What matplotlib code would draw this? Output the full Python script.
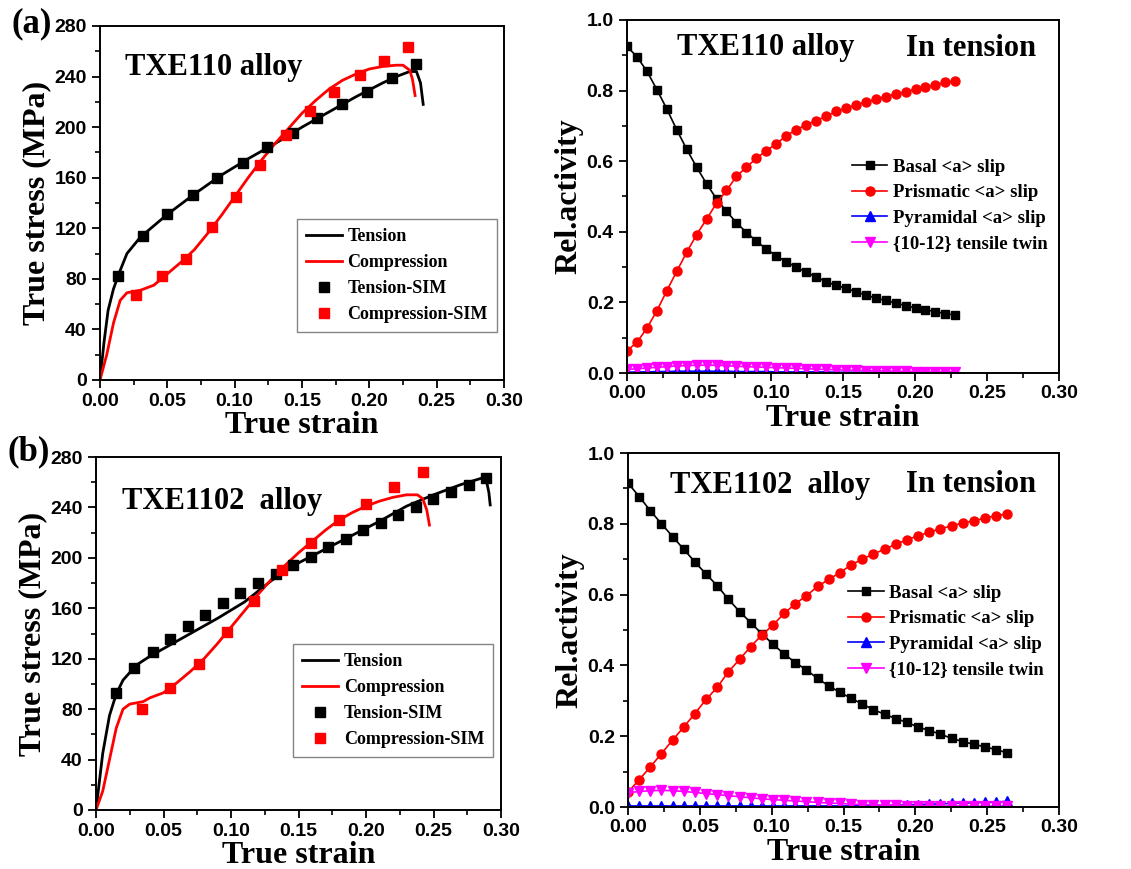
import matplotlib

matplotlib.use("Agg")
import matplotlib.pyplot as plt
import numpy as np
from matplotlib.ticker import MultipleLocator, FormatStrFormatter

# ---- (a) TXE110 stress-strain ----
a_ten_x = [0, 0.003, 0.006, 0.01, 0.014, 0.02, 0.03, 0.05, 0.07, 0.09, 0.11, 0.13, 0.15,
           0.17, 0.19, 0.21, 0.22, 0.23, 0.235, 0.238, 0.240]
a_ten_y = [0, 30, 55, 72, 84, 100, 113, 131, 147, 162, 175, 187, 200,
           212, 224, 235, 240, 244, 244, 235, 218]
a_com_x = [0, 0.005, 0.01, 0.015, 0.02, 0.025, 0.03, 0.04, 0.05, 0.06, 0.07, 0.08, 0.09,
           0.10, 0.11, 0.12, 0.13, 0.14, 0.15, 0.16, 0.17, 0.18, 0.19, 0.20, 0.21, 0.22,
           0.225, 0.23, 0.232, 0.234]
a_com_y = [0, 20, 45, 63, 69, 70, 71, 75, 84, 93, 103, 116, 130,
           145, 160, 174, 187, 199, 211, 221, 230, 237, 242, 246, 248, 249,
           249, 245, 238, 225]
a_tsim_x = [0.013, 0.032, 0.050, 0.069, 0.087, 0.106, 0.124, 0.143, 0.161, 0.180, 0.198, 0.217, 0.235]
a_tsim_y = [82, 114, 131, 146, 160, 172, 184, 195, 207, 218, 228, 239, 250]
a_csim_x = [0.027, 0.046, 0.064, 0.083, 0.101, 0.119, 0.138, 0.156, 0.174, 0.193, 0.211, 0.229]
a_csim_y = [67, 82, 96, 121, 145, 170, 194, 213, 228, 241, 252, 263]

# ---- (b) TXE1102 stress-strain ----
b_ten_x = [0, 0.005, 0.01, 0.015, 0.02, 0.03, 0.04, 0.05, 0.07, 0.09, 0.11, 0.13, 0.15,
           0.17, 0.19, 0.21, 0.23, 0.25, 0.27, 0.285, 0.289, 0.291, 0.292]
b_ten_y = [0, 45, 75, 92, 103, 115, 122, 128, 140, 152, 165, 182, 196,
           207, 218, 229, 241, 250, 258, 263, 262, 252, 242]
b_com_x = [0, 0.005, 0.01, 0.015, 0.02, 0.025, 0.03, 0.035, 0.04, 0.05, 0.06, 0.07, 0.08,
           0.09, 0.10, 0.11, 0.12, 0.13, 0.14, 0.15, 0.16, 0.17, 0.18, 0.19, 0.20, 0.21,
           0.22, 0.23, 0.238, 0.242, 0.245, 0.247]
b_com_y = [0, 15, 40, 65, 80, 84, 85, 86, 89, 93, 101, 110, 120,
           132, 145, 158, 171, 183, 194, 204, 213, 222, 230, 236, 241, 245,
           248, 250, 250, 247, 238, 226]
b_tsim_x = [0.015, 0.028, 0.042, 0.055, 0.068, 0.081, 0.094, 0.107, 0.120, 0.133, 0.146,
            0.159, 0.172, 0.185, 0.198, 0.211, 0.224, 0.237, 0.250, 0.263, 0.276, 0.289]
b_tsim_y = [93, 113, 125, 136, 146, 155, 164, 172, 180, 187, 194,
            201, 209, 215, 222, 228, 234, 240, 247, 252, 258, 263]
b_csim_x = [0.034, 0.055, 0.076, 0.097, 0.117, 0.138, 0.159, 0.180, 0.200, 0.221, 0.242]
b_csim_y = [80, 97, 116, 141, 166, 190, 212, 230, 243, 256, 268]

# ---- relative activity, TXE110 ----
ra_x = np.linspace(0, 0.228, 34)
ra_basal = [0.925, 0.896, 0.855, 0.803, 0.748, 0.689, 0.634, 0.583, 0.536, 0.493, 0.458, 0.426,
            0.398, 0.374, 0.351, 0.332, 0.315, 0.300, 0.286, 0.272, 0.259, 0.248, 0.240, 0.230,
            0.221, 0.212, 0.206, 0.198, 0.191, 0.184, 0.179, 0.174, 0.168, 0.164]
ra_prism = [0.063, 0.087, 0.127, 0.176, 0.233, 0.288, 0.342, 0.392, 0.436, 0.481, 0.517, 0.557,
            0.583, 0.608, 0.630, 0.649, 0.672, 0.689, 0.703, 0.715, 0.727, 0.741, 0.750, 0.759,
            0.768, 0.775, 0.783, 0.790, 0.796, 0.804, 0.809, 0.816, 0.823, 0.828]
ra_pyr = [0.002, 0.003, 0.003, 0.004, 0.004, 0.005, 0.005, 0.005, 0.005, 0.005, 0.005, 0.004,
          0.004, 0.004, 0.004, 0.003, 0.003, 0.003, 0.003, 0.003, 0.003, 0.002, 0.002, 0.002,
          0.002, 0.002, 0.002, 0.002, 0.002, 0.002, 0.002, 0.002, 0.002, 0.002]
ra_twin = [0.010, 0.012, 0.014, 0.016, 0.018, 0.020, 0.021, 0.022, 0.022, 0.022, 0.021, 0.019,
           0.018, 0.017, 0.016, 0.015, 0.014, 0.013, 0.012, 0.011, 0.010, 0.009, 0.008, 0.008,
           0.007, 0.006, 0.006, 0.005, 0.005, 0.004, 0.004, 0.004, 0.003, 0.003]

# ---- relative activity, TXE1102 ----
rb_x = np.linspace(0, 0.264, 35)
rb_basal = [0.915, 0.877, 0.837, 0.800, 0.764, 0.728, 0.692, 0.658, 0.625, 0.587, 0.552, 0.521,
            0.489, 0.460, 0.432, 0.408, 0.387, 0.363, 0.342, 0.324, 0.307, 0.291, 0.275, 0.262,
            0.250, 0.239, 0.226, 0.216, 0.206, 0.194, 0.185, 0.177, 0.170, 0.162, 0.153]
rb_prism = [0.042, 0.077, 0.113, 0.151, 0.189, 0.226, 0.264, 0.304, 0.338, 0.382, 0.417, 0.453,
            0.486, 0.514, 0.547, 0.574, 0.597, 0.623, 0.643, 0.662, 0.684, 0.700, 0.715, 0.728,
            0.742, 0.755, 0.766, 0.776, 0.786, 0.794, 0.802, 0.809, 0.816, 0.823, 0.828]
rb_pyr = [0.003, 0.003, 0.003, 0.003, 0.003, 0.003, 0.003, 0.003, 0.003, 0.003, 0.003, 0.003,
          0.003, 0.003, 0.003, 0.003, 0.003, 0.003, 0.003, 0.003, 0.003, 0.004, 0.004, 0.005,
          0.005, 0.006, 0.007, 0.008, 0.009, 0.010, 0.011, 0.012, 0.013, 0.014, 0.016]
rb_twin = [0.040, 0.044, 0.046, 0.047, 0.046, 0.044, 0.041, 0.038, 0.035, 0.032, 0.029, 0.026,
           0.023, 0.021, 0.019, 0.017, 0.015, 0.013, 0.011, 0.010, 0.008, 0.007, 0.006, 0.005,
           0.005, 0.004, 0.004, 0.003, 0.003, 0.003, 0.003, 0.002, 0.002, 0.002, 0.002]

SERIF = "Liberation Serif"
SANS = "Liberation Sans"
W, H = 1131, 869


def px_axes(fig, l, t, r, b):
    return fig.add_axes([l / W, 1 - b / H, (r - l) / W, (b - t) / H])


def style(ax, ymax, ymaj, ymin, ylabel, yfmt=None):
    ax.set_xlim(0, 0.30)
    ax.set_ylim(0, ymax)
    ax.xaxis.set_major_locator(MultipleLocator(0.05))
    ax.xaxis.set_minor_locator(MultipleLocator(0.025))
    ax.yaxis.set_major_locator(MultipleLocator(ymaj))
    ax.yaxis.set_minor_locator(MultipleLocator(ymin))
    ax.xaxis.set_major_formatter(FormatStrFormatter("%.2f"))
    if yfmt:
        ax.yaxis.set_major_formatter(FormatStrFormatter(yfmt))
    ax.tick_params(which="major", direction="out", length=6, width=1.3)
    ax.tick_params(which="minor", direction="out", length=3.5, width=1.2)
    ax.tick_params(axis="x", which="major", pad=3)
    for lab in ax.get_xticklabels() + ax.get_yticklabels():
        lab.set_fontfamily(SANS)
        lab.set_fontweight("bold")
        lab.set_fontsize(14)
    for sp in ax.spines.values():
        sp.set_linewidth(1.4)
    ax.set_xlabel("True strain", fontfamily=SERIF, fontweight="bold", fontsize=23, labelpad=1)
    ax.set_ylabel(ylabel, fontfamily=SERIF, fontweight="bold", fontsize=23, labelpad=2)


def stress_panel(ax, tx, ty, cx, cy, tsx, tsy, csx, csy, anchor):
    ax.plot(tx, ty, color="black", lw=2, label="Tension")
    ax.plot(cx, cy, color="red", lw=2, label="Compression")
    ax.plot(tsx, tsy, "s", color="black", ms=7, label="Tension-SIM")
    ax.plot(csx, csy, "s", color="red", ms=7, label="Compression-SIM")
    style(ax, 280, 40, 20, "True stress (MPa)")
    leg = ax.legend(loc="upper left", bbox_to_anchor=anchor, frameon=True, fancybox=False,
                    prop={"family": SERIF, "weight": "bold", "size": 13},
                    handlelength=2.0, handletextpad=0.3, labelspacing=0.5, borderpad=0.5)
    leg.get_frame().set_edgecolor("#666666")
    leg.get_frame().set_linewidth(1.0)


def activity_panel(ax, x, basal, prism, pyr, twin, anchor):
    ax.plot(x, basal, "-s", color="black", lw=1.2, ms=6, label="Basal <a> slip")
    ax.plot(x, prism, "-o", color="red", lw=1.2, ms=6.5, label="Prismatic <a> slip")
    ax.plot(x, pyr, "-^", color="blue", lw=1.2, ms=6.5, label="Pyramidal <a> slip")
    ax.plot(x, twin, "-v", color="magenta", lw=1.2, ms=7, label="{10-12} tensile twin")
    style(ax, 1.0, 0.2, 0.1, "Rel.activity", "%.1f")
    ax.legend(loc="upper left", bbox_to_anchor=anchor, frameon=False,
              prop={"family": SERIF, "weight": "bold", "size": 13.5},
              handlelength=1.9, handletextpad=0.3, labelspacing=0.45, borderpad=0.2)


def main():
    fig = plt.figure(figsize=(W / 100, H / 100), dpi=100)
    txt = dict(fontfamily=SERIF, fontweight="bold")

    ax1 = px_axes(fig, 100, 26, 504, 380)
    stress_panel(ax1, a_ten_x, a_ten_y, a_com_x, a_com_y, a_tsim_x, a_tsim_y,
                 a_csim_x, a_csim_y, (0.465, 0.48))
    fig.text(125 / W, 1 - 67 / H, "TXE110 alloy", fontsize=22, va="center", ha="left", **txt)

    ax2 = px_axes(fig, 627, 20, 1059, 373)
    activity_panel(ax2, ra_x, ra_basal, ra_prism, ra_pyr, ra_twin, (0.49, 0.645))
    fig.text(766 / W, 1 - 48 / H, "TXE110 alloy", fontsize=22, va="center", ha="center", **txt)
    fig.text(971 / W, 1 - 48 / H, "In tension", fontsize=22, va="center", ha="center", **txt)

    ax3 = px_axes(fig, 96, 457, 501, 810)
    stress_panel(ax3, b_ten_x, b_ten_y, b_com_x, b_com_y, b_tsim_x, b_tsim_y,
                 b_csim_x, b_csim_y, (0.465, 0.495))
    fig.text(122 / W, 1 - 502 / H, "TXE1102  alloy", fontsize=22, va="center", ha="left", **txt)

    ax4 = px_axes(fig, 628, 453, 1059, 807)
    activity_panel(ax4, rb_x, rb_basal, rb_prism, rb_pyr, rb_twin, (0.48, 0.665))
    fig.text(770 / W, 1 - 486 / H, "TXE1102  alloy", fontsize=22, va="center", ha="center", **txt)
    fig.text(971 / W, 1 - 485 / H, "In tension", fontsize=22, va="center", ha="center", **txt)

    fig.text(32 / W, 1 - 24 / H, "(a)", fontsize=25, va="center", ha="center", **txt)
    fig.text(29 / W, 1 - 452 / H, "(b)", fontsize=25, va="center", ha="center", **txt)

    fig.savefig("out.png", dpi=100)


if __name__ == "__main__":
    main()
